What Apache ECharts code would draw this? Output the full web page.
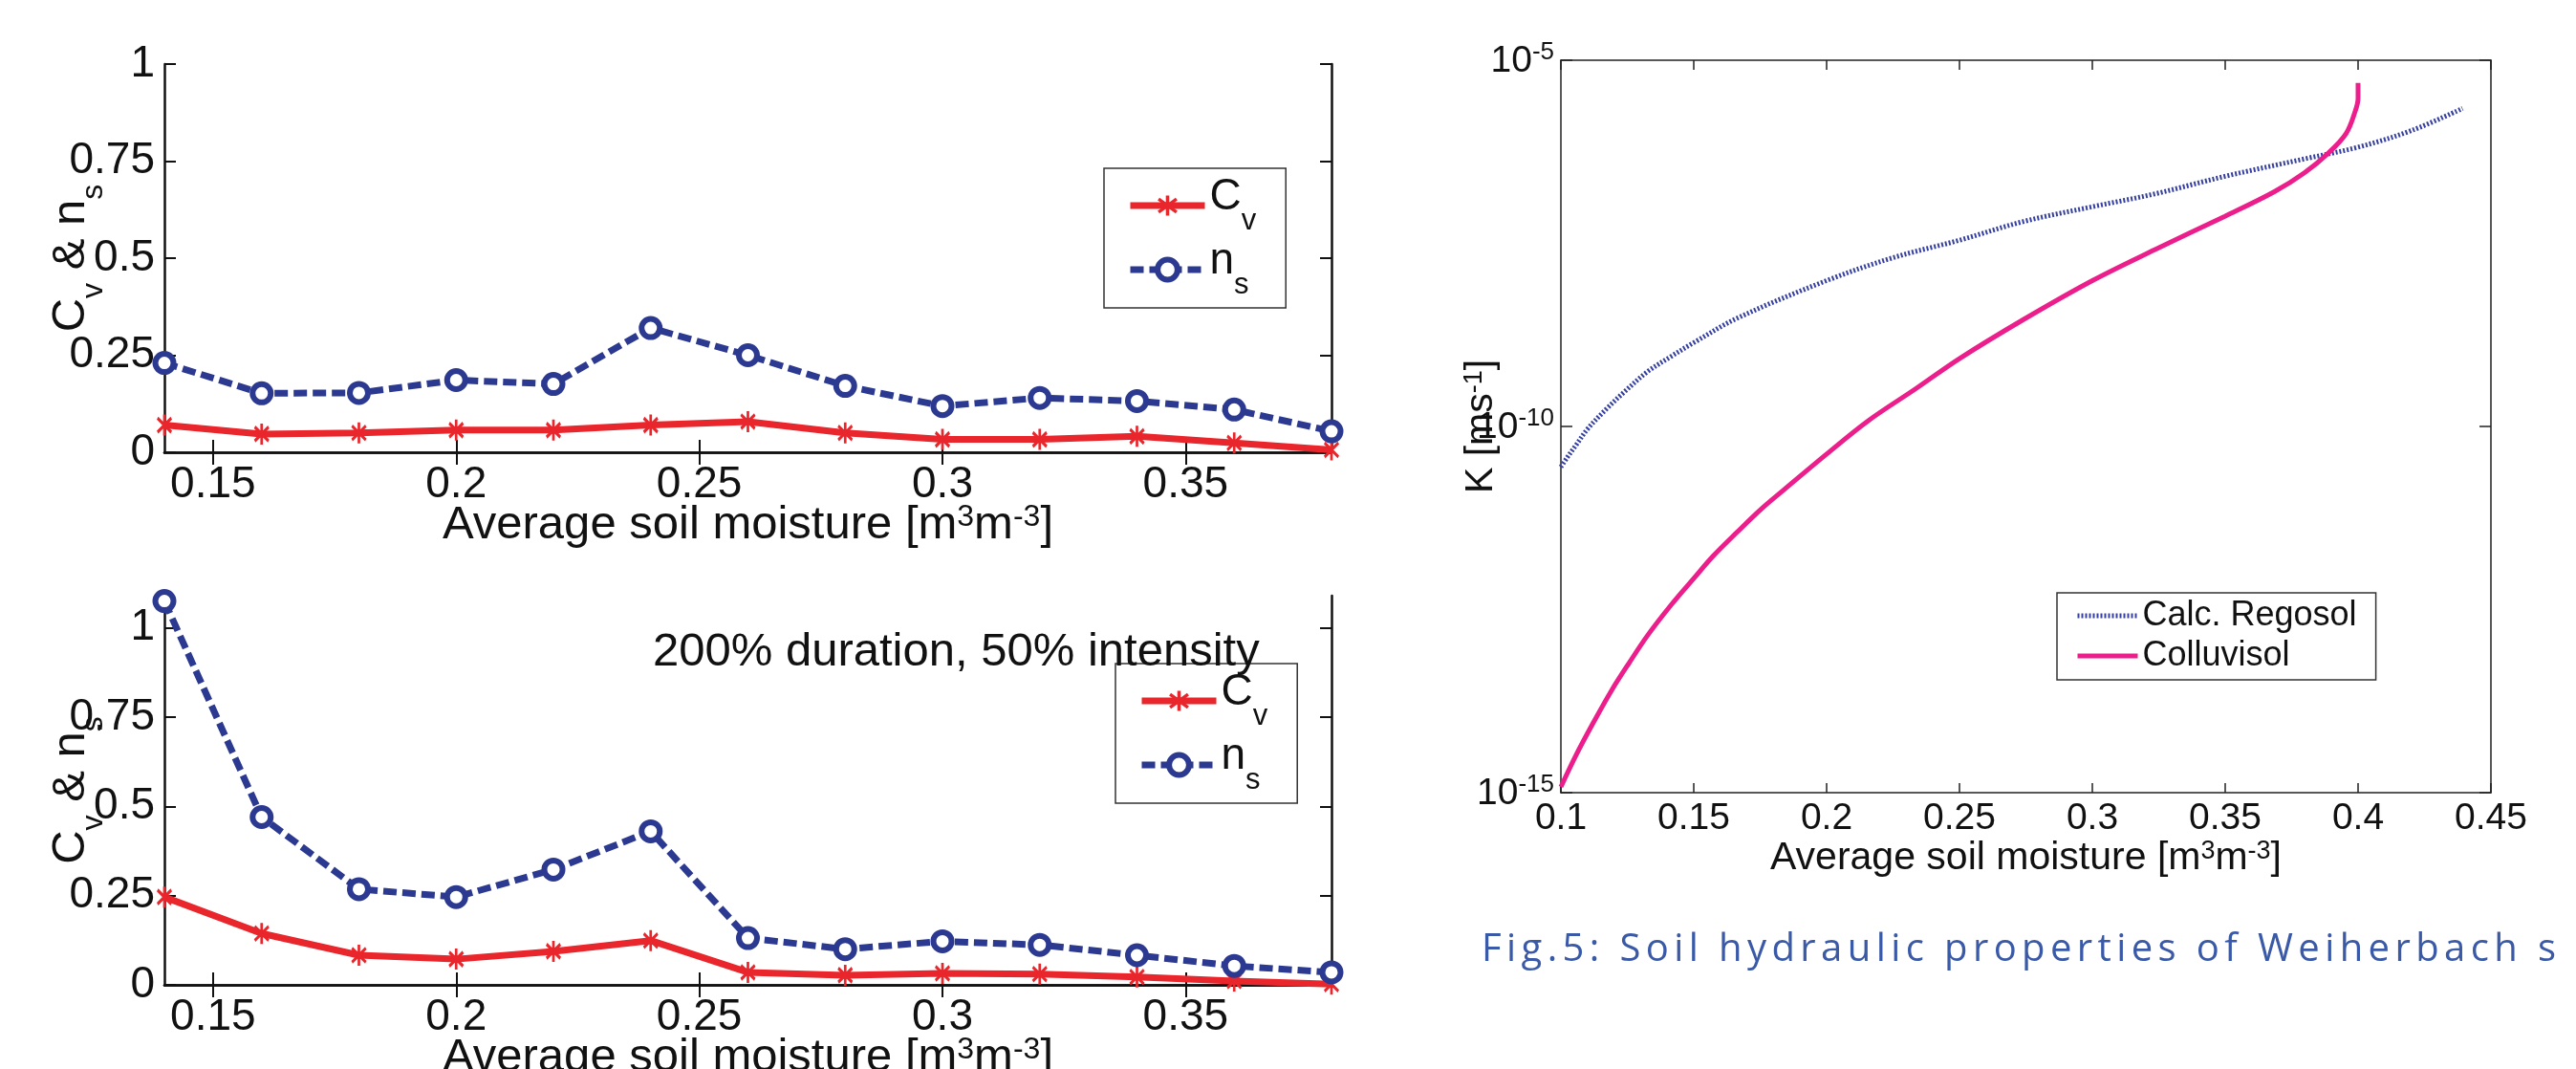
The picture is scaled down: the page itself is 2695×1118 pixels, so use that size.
<!DOCTYPE html>
<html>
<head>
<meta charset="utf-8">
<script src="https://cdn.jsdelivr.net/npm/echarts@6/dist/echarts.min.js"></script>
<style>
  html, body { margin: 0; padding: 0; background: #fff; overflow: hidden; }
  #chart { width: 2695px; height: 1118px; }
  .caption {
    position: absolute; left: 1550px; top: 970px;
    font-family: "Open Sans", sans-serif; font-size: 40px; line-height: 40px;
    color: #3a5aa8; letter-spacing: 5.4px; white-space: nowrap;
  }
</style>
</head>
<body>
<div id="chart"></div>
<div class="caption">Fig.5: Soil hydraulic properties of Weiherbach s</div>
<script>
// soil moisture classes (left panels)
const moisture = [0.14, 0.16, 0.18, 0.20, 0.22, 0.24, 0.26, 0.28, 0.30, 0.32, 0.34, 0.36, 0.38];
// upper panel
const cvTop = [0.070, 0.047, 0.050, 0.057, 0.057, 0.070, 0.079, 0.050, 0.033, 0.033, 0.041, 0.024, 0.006];
const nsTop = [0.230, 0.152, 0.153, 0.186, 0.176, 0.320, 0.250, 0.171, 0.119, 0.140, 0.132, 0.110, 0.054];
// lower panel: 200% duration, 50% intensity
const cvBottom = [0.246, 0.144, 0.083, 0.072, 0.094, 0.124, 0.035, 0.027, 0.032, 0.030, 0.022, 0.011, 0.002];
const nsBottom = [1.075, 0.470, 0.268, 0.246, 0.323, 0.430, 0.131, 0.100, 0.122, 0.112, 0.083, 0.053, 0.035];

const leftXTicks = [0.15, 0.2, 0.25, 0.3, 0.35];
const leftYTicks = [0, 0.25, 0.5, 0.75, 1];

// hydraulic conductivity curves (right panel)
const thetaRegosol = [0.1000, 0.1022, 0.1056, 0.1101, 0.1169, 0.1236, 0.1326, 0.1416, 0.1501, 0.1663, 0.2000,
  0.2247, 0.2501, 0.2742, 0.3000, 0.3236, 0.3499, 0.3798, 0.4000, 0.4202, 0.4393];
const kRegosol = [2.8e-11, 3.7e-11, 5.5e-11, 9.3e-11, 1.7e-10, 2.9e-10, 5.6e-10, 9.1e-10, 1.4e-9, 3.0e-9, 9.8e-9,
  2.0e-8, 3.5e-8, 6.3e-8, 1.0e-7, 1.5e-7, 2.6e-7, 4.5e-7, 6.5e-7, 1.1e-6, 2.2e-6];
const thetaColluvisol = [0.1000, 0.1056, 0.1124, 0.1191, 0.1258, 0.1326, 0.1416, 0.1501, 0.1573, 0.1663, 0.1753,
  0.1843, 0.2000, 0.2157, 0.2337, 0.2501, 0.2742, 0.3000, 0.3236, 0.3499, 0.3685, 0.3798, 0.3888, 0.3955,
  0.3989, 0.4000, 0.4000];
const kColluvisol = [1.2e-15, 3.2e-15, 9.3e-15, 2.5e-14, 6.0e-14, 1.4e-13, 3.7e-13, 8.5e-13, 1.7e-12, 3.6e-12, 7.4e-12,
  1.4e-11, 4.2e-11, 1.2e-10, 3.3e-10, 8.5e-10, 2.9e-9, 9.8e-9, 2.6e-8, 7.4e-8, 1.6e-7, 2.9e-7, 5.4e-7, 1.0e-6,
  2.0e-6, 3.0e-6, 4.9e-6];
const rightYTicks = [1e-15, 1e-10, 1e-5];

const FONT = "Liberation Sans, Arial, sans-serif";
const INK = "#111";
const RED = "#e8262c";
const BLUE = "#2b3990";
const PINK = "#ec1e8c";
const REGO = "#3540a0";

// asterisk marker
const STAR = "path://M4.2,0 L5.8,0 L5.8,10 L4.2,10 Z M0.3,2.3 L1.2,1 L9.7,7.7 L8.8,9 Z M8.8,1 L9.7,2.3 L1.2,9 L0.3,7.7 Z";

function pair(xs, ys) {
  return xs.map((x, i) => [x, ys[i]]);
}

// text styles with super/subscripts
function supRich(size, small, lh) {
  return {
    b: { fontFamily: FONT, fontSize: size, lineHeight: lh, color: INK, verticalAlign: "top" },
    p: { fontFamily: FONT, fontSize: small, lineHeight: small, color: INK, verticalAlign: "top" }
  };
}
function subRich(size, small, lh) {
  return {
    b: { fontFamily: FONT, fontSize: size, lineHeight: lh, color: INK, verticalAlign: "top" },
    s: { fontFamily: FONT, fontSize: small, lineHeight: Math.round(small * 0.7), color: INK, verticalAlign: "bottom" }
  };
}
const moistureName = "{b|Average soil moisture [m}{p|3}{b|m}{p|-3}{b|]}";
const symbolName = { Cv: "{b|C}{s|v}", ns: "{b|n}{s|s}" };

function leftX(gridIndex, name) {
  return [
    {
      type: "value", gridIndex: gridIndex, min: 0.14, max: 0.38, position: "bottom",
      name: name, nameLocation: "middle", nameGap: 52, nameMoveOverlap: false,
      nameTextStyle: { rich: supRich(49, 32, 58) },
      axisLine: { lineStyle: { color: INK, width: 2.5 } },
      axisTick: { inside: true, length: 13, customValues: leftXTicks, lineStyle: { color: INK, width: 2 } },
      axisLabel: { customValues: leftXTicks, fontFamily: FONT, fontSize: 46, color: INK, margin: 11 },
      splitLine: { show: false }
    },
    {
      type: "value", gridIndex: gridIndex, min: 0.14, max: 0.38, position: "top",
      axisLine: { lineStyle: { color: INK, width: 2.5 } },
      axisTick: { inside: true, length: 13, customValues: leftXTicks, lineStyle: { color: INK, width: 2 } },
      axisLabel: { show: false },
      splitLine: { show: false }
    }
  ];
}
function leftY(gridIndex, max) {
  return [
    {
      type: "value", gridIndex: gridIndex, min: 0, max: max, position: "left",
      name: "{b|C}{s|v}{b| & n}{s|s}", nameLocation: "middle", nameGap: 58, nameMoveOverlap: false,
      nameTextStyle: { rich: subRich(49, 32, 64) },
      axisLine: { lineStyle: { color: INK, width: 2.5 } },
      axisTick: { inside: true, length: 12, customValues: leftYTicks, lineStyle: { color: INK, width: 2 } },
      axisLabel: { customValues: leftYTicks, fontFamily: FONT, fontSize: 46, color: INK, margin: 10 },
      splitLine: { show: false }
    },
    {
      type: "value", gridIndex: gridIndex, min: 0, max: max, position: "right",
      axisLine: { lineStyle: { color: INK, width: 2.5 } },
      axisTick: { inside: true, length: 12, customValues: leftYTicks, lineStyle: { color: INK, width: 2 } },
      axisLabel: { show: false },
      splitLine: { show: false }
    }
  ];
}

function cvSeries(axisIndex, values) {
  return {
    name: "Cv", type: "line", xAxisIndex: axisIndex, yAxisIndex: axisIndex,
    data: pair(moisture, values),
    symbol: STAR, symbolSize: [16, 22],
    lineStyle: { color: RED, width: 7 },
    itemStyle: { color: RED },
    z: 3
  };
}
function nsSeries(axisIndex, values) {
  return {
    name: "ns", type: "line", xAxisIndex: axisIndex, yAxisIndex: axisIndex,
    data: pair(moisture, values),
    symbol: "circle", symbolSize: 19,
    lineStyle: { color: BLUE, width: 7, type: [14, 6] },
    itemStyle: { color: "#fff", borderColor: BLUE, borderWidth: 6 },
    z: 4
  };
}
function leftLegend(left, top) {
  return {
    data: ["Cv", { name: "ns", itemStyle: { borderWidth: 6 } }],
    left: left, top: top, orient: "vertical",
    selectedMode: false,
    itemWidth: 78, itemHeight: 26, itemGap: 3, itemTextGap: 50,
    padding: [7, 31, 8, 24],
    borderColor: "#333", borderWidth: 1.5,
    lineStyle: { width: "inherit" },
    formatter: (name) => symbolName[name],
    textStyle: { rich: subRich(46, 31, 64) }
  };
}

const chart = echarts.init(document.getElementById("chart"));

const option = {
  backgroundColor: "#fff",
  animation: false,
  grid: [
    { left: 172, top: 67, width: 1221, height: 406, outerBoundsMode: "none" },
    { left: 172, top: 623, width: 1221, height: 407, outerBoundsMode: "none" },
    { left: 1633, top: 63, width: 973, height: 766, outerBoundsMode: "none" }
  ],
  xAxis: [
    ...leftX(0, moistureName),
    ...leftX(1, moistureName),
    {
      type: "value", gridIndex: 2, min: 0.1, max: 0.45, interval: 0.05, position: "bottom",
      name: moistureName, nameLocation: "middle", nameGap: 48, nameMoveOverlap: false,
      nameTextStyle: { rich: supRich(41, 27, 50) },
      axisLine: { lineStyle: { color: "#222", width: 1.5 } },
      axisTick: { inside: true, length: 10, lineStyle: { color: "#222", width: 1.5 } },
      axisLabel: { fontFamily: FONT, fontSize: 39, color: INK, margin: 8 },
      splitLine: { show: false }
    },
    {
      type: "value", gridIndex: 2, min: 0.1, max: 0.45, interval: 0.05, position: "top",
      axisLine: { lineStyle: { color: "#222", width: 1.5 } },
      axisTick: { inside: true, length: 10, lineStyle: { color: "#222", width: 1.5 } },
      axisLabel: { show: false },
      splitLine: { show: false }
    }
  ],
  yAxis: [
    ...leftY(0, 1),
    ...leftY(1, 1.09),
    {
      type: "log", logBase: 10, gridIndex: 2, min: 1e-15, max: 1e-5, position: "left",
      name: "{b|K [ms}{p|-1}{b|]}", nameLocation: "middle", nameGap: 54, nameMoveOverlap: false,
      nameTextStyle: { rich: supRich(41, 27, 50) },
      axisLine: { lineStyle: { color: "#222", width: 1.5 } },
      axisTick: { inside: true, length: 12, customValues: rightYTicks, lineStyle: { color: "#222", width: 1.5 } },
      axisLabel: {
        customValues: rightYTicks, margin: 7,
        formatter: (v) => "{b|10}{p|" + Math.round(Math.log10(v)) + "}",
        rich: {
          b: { fontFamily: FONT, fontSize: 39, lineHeight: 42, color: INK, verticalAlign: "bottom" },
          p: { fontFamily: FONT, fontSize: 26, lineHeight: 26, color: INK, verticalAlign: "top" }
        }
      },
      splitLine: { show: false }
    },
    {
      type: "log", logBase: 10, gridIndex: 2, min: 1e-15, max: 1e-5, position: "right",
      axisLine: { lineStyle: { color: "#222", width: 1.5 } },
      axisTick: { inside: true, length: 12, customValues: rightYTicks, lineStyle: { color: "#222", width: 1.5 } },
      axisLabel: { show: false },
      splitLine: { show: false }
    }
  ],
  legend: [
    leftLegend(1155, 176),
    leftLegend(1167, 694),
    {
      data: ["Calc. Regosol", "Colluvisol"], left: 2152, top: 620, orient: "vertical",
      selectedMode: false,
      itemWidth: 63, itemHeight: 14, itemGap: 0, itemTextGap: 21,
      padding: [3, 20, 4, 19],
      borderColor: "#333", borderWidth: 1.5,
      lineStyle: { width: "inherit" },
      itemStyle: { opacity: 0 },
      textStyle: { fontFamily: FONT, fontSize: 36, lineHeight: 42, color: INK }
    }
  ],
  graphic: [
    {
      type: "text", x: 683, y: 682, z: 10,
      style: { text: "200% duration, 50% intensity", fontFamily: FONT, fontSize: 49, fill: INK, verticalAlign: "middle" }
    }
  ],
  series: [
    cvSeries(0, cvTop),
    nsSeries(0, nsTop),
    cvSeries(2, cvBottom),
    nsSeries(2, nsBottom),
    {
      name: "Calc. Regosol", type: "line", xAxisIndex: 4, yAxisIndex: 4,
      data: pair(thetaRegosol, kRegosol),
      symbol: "none", smooth: 0.35,
      lineStyle: { color: REGO, width: 5, type: [2, 2] },
      itemStyle: { color: REGO }
    },
    {
      name: "Colluvisol", type: "line", xAxisIndex: 4, yAxisIndex: 4,
      data: pair(thetaColluvisol, kColluvisol),
      symbol: "none", smooth: 0.35,
      lineStyle: { color: PINK, width: 5 },
      itemStyle: { color: PINK }
    }
  ]
};

chart.setOption(option);
</script>
</body>
</html>
